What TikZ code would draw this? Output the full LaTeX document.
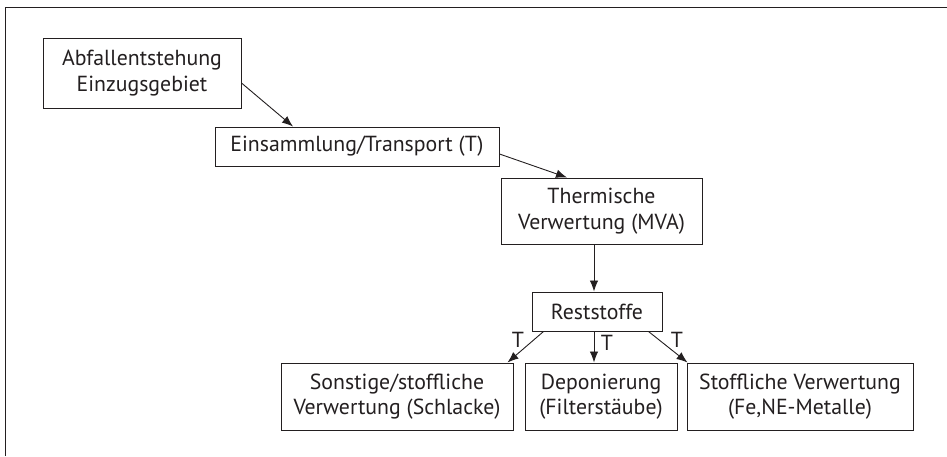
\documentclass[tikz,border=0pt]{standalone}
\usepackage{fontspec}
\setmainfont{PT Sans}
\usetikzlibrary{arrows.meta}
\definecolor{ink}{HTML}{231F20}
\tikzset{
  box/.style={draw=ink, line width=1pt, inner sep=0pt, align=center, text=ink,
    font=\fontsize{21.8}{25.5}\selectfont},
  conn/.style={draw=ink, line width=0.9pt, -{Latex[length=11pt,width=8.5pt]}},
  tlab/.style={text=ink, inner sep=0pt, font=\fontsize{21.8}{24}\selectfont}
}
\begin{document}
\begin{tikzpicture}[x=1pt,y=-1pt]
\useasboundingbox (0,0) rectangle (947,456);
\draw[ink, line width=1.3pt] (5.5,456) -- (5.5,7.5) -- (947,7.5);

\node[box, minimum width=198pt, minimum height=70pt] (b1) at (142,73) {Abfallentstehung\\Einzugsgebiet};
\node[box, minimum width=284pt, minimum height=39pt] (b2) at (357,146.5) {Einsammlung/Transport (T)};
\node[box, minimum width=201pt, minimum height=66pt] (b3) at (601.5,211) {Thermische\\Verwertung (MVA)};
\node[box, minimum width=130pt, minimum height=39pt] (r) at (597,311.5) {Reststoffe};
\node[box, minimum width=232pt, minimum height=67pt] (a) at (397,396.5) {Sonstige/stoffliche\\Verwertung (Schlacke)};
\node[box, minimum width=152pt, minimum height=67pt] (b) at (601,396.5) {Deponierung\\(Filterstäube)};
\node[box, minimum width=226pt, minimum height=67pt] (c) at (800,396.5) {Stoffliche Verwertung\\(Fe,NE-Metalle)};

\draw[conn] ([yshift=-10pt]b1.east) -- ([xshift=-64pt]b2.north);
\draw[conn] ([yshift=-7.5pt]b2.east) -- ([xshift=-34.5pt]b3.north);
\draw[conn] ([xshift=-3pt]r.north |- b3.south) -- ([xshift=-3pt]r.north);
\draw[conn] ([xshift=12pt]r.south west) -- ([xshift=-6pt]a.north east);
\draw[conn] ([xshift=-3pt]r.south) -- ([xshift=-3pt]r.south |- b.north);
\draw[conn] ([xshift=-14pt]r.south east) -- ([xshift=1pt]c.north west);

\node[tlab] (t1) at (518,340) {T};
\node[tlab] (t2) at (607,343) {T};
\node[tlab] (t3) at (677,340) {T};
\end{tikzpicture}
\end{document}
